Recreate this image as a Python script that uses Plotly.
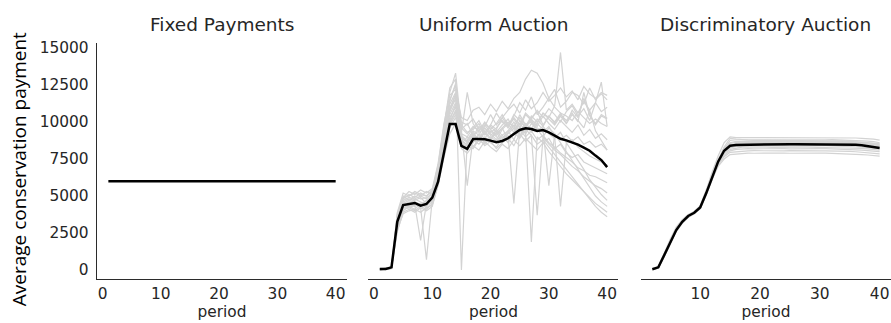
import plotly.graph_objects as go

# ---------------- data ----------------
periods = list(range(1, 41))
disc_periods = list(range(2, 41))

panel_titles = ["Fixed Payments", "Uniform Auction", "Discriminatory Auction"]
y_label = "Average conservation payment"
x_label = "period"
y_tickvals = [0, 2500, 5000, 7500, 10000, 12500, 15000]
y_ticktext = ["0", "2500", "5000", "7500", "10000", "12500", "15000"]
x_tickvals = [0, 10, 20, 30, 40]

fixed_mean = [6000] * 40

uniform_mean = [70, 70, 180, 3270, 4390, 4460, 4530, 4350, 4460, 4890,
                5970, 7930, 9860, 9860, 8380, 8180, 8850, 8850, 8830, 8740,
                8630, 8720, 8900, 9190, 9460, 9570, 9530, 9390, 9460, 9300,
                9100, 8870, 8760, 8630, 8470, 8270, 8060, 7730, 7430, 6950]

uniform_A = [100, 100, 150, 3900, 5200, 5000, 5300, 5100, 5000, 5400,
             7000, 9500, 11500, 12500, 10000, 9800, 10200, 9500, 9700, 10500,
             9800, 10300, 10800, 11200, 10600, 11500, 10900, 11300, 12000, 11400,
             11800, 12300, 11700, 12100, 11500, 12400, 11900, 11600, 12000, 11800]
uniform_B = [50, 80, 200, 3400, 4600, 4800, 4700, 4900, 4500, 4800,
             6500, 9000, 10800, 11800, 9200, 9000, 9600, 10100, 9300, 9800,
             10600, 10000, 9700, 10400, 11300, 10800, 11700, 10500, 11000, 11600,
             12200, 11000, 11400, 12000, 11800, 11200, 12300, 11500, 11900, 11500]
uniform_C = [0, 100, 100, 3000, 4300, 4500, 4600, 4400, 4700, 5000,
             6800, 9600, 12000, 13300, 9500, 9900, 9100, 9400, 10000, 9500,
             9900, 10500, 9800, 10200, 9600, 10500, 10100, 9900, 10600, 10300,
             11100, 14700, 10800, 11200, 10600, 11400, 10800, 11300, 10700, 11000]
uniform_D = [100, 50, 150, 2800, 4000, 4300, 4100, 4500, 4300, 4600,
             6200, 8400, 10300, 11000, 8900, 8700, 9300, 8800, 9600, 9200,
             8800, 9500, 9900, 9300, 10100, 9600, 10300, 10700, 9800, 10400,
             10000, 10600, 9900, 10800, 10300, 11600, 10500, 9800, 10400, 10200]
uniform_E = [50, 100, 200, 3600, 4900, 5300, 5100, 5400, 5200, 5500,
             7200, 9900, 11800, 12200, 10300, 10100, 10800, 11000, 10500, 11200,
             10700, 11400, 10900, 11600, 12000, 12900, 13500, 13300, 12600, 11600,
             11000, 10600, 10400, 10100, 10700, 10300, 9900, 10200, 9900, 9700]
uniform_F = [0, 50, 100, 3200, 4500, 4400, 4800, 4600, 4400, 4700,
             6000, 8000, 9800, 10500, 8500, 9000, 8600, 9200, 8900, 9400,
             9000, 8700, 9300, 9800, 9100, 9600, 10200, 9700, 10400, 9900,
             9500, 10100, 9700, 9300, 9800, 9100, 9500, 8900, 9200, 8800]
uniform_G = [100, 100, 150, 2600, 3900, 4100, 3900, 4200, 4000, 4300,
             5800, 8200, 10000, 10800, 8300, 8100, 8800, 8500, 9000, 8600,
             8300, 8900, 9400, 8800, 9700, 9200, 9900, 9500, 9000, 9600,
             9200, 8800, 9100, 8700, 9000, 8500, 8700, 8300, 8500, 8100]
uniform_H = [0, 100, 100, 3800, 5000, 4700, 5000, 4800, 4900, 5100,
             6600, 9200, 11200, 12000, 9800, 9300, 9500, 9900, 9100, 9700,
             9300, 9800, 10200, 9500, 10500, 9800, 10100, 9400, 9700, 9200,
             8900, 9300, 8600, 8800, 8300, 8000, 7700, 7500, 7300, 7100]
uniform_I = [50, 80, 100, 3300, 4400, 4600, 4500, 4300, 4600, 4900,
             6300, 8800, 10500, 11300, 9000, 8600, 9100, 8700, 9400, 8900,
             9200, 9600, 8800, 9300, 9900, 9400, 1900, 9000, 8600, 8900,
             8200, 8500, 7900, 7600, 7800, 7300, 7100, 6900, 6700, 6500]
uniform_J = [100, 100, 200, 3100, 4200, 4400, 4300, 4500, 4200, 4400,
             5900, 7800, 9600, 10300, 8600, 8300, 8700, 9100, 8600, 8900,
             9300, 8700, 9100, 4500, 9500, 9000, 9400, 8800, 9100, 8600,
             8300, 7900, 7600, 7300, 6900, 6700, 6400, 6300, 6100, 5900]
uniform_K = [0, 50, 100, 2900, 4100, 4200, 4000, 4300, 4100, 4500,
             6100, 8600, 10100, 11200, 8800, 8400, 8200, 8800, 8500, 9000,
             8700, 9100, 8600, 9300, 8900, 9500, 9100, 3700, 9000, 8500,
             8100, 7800, 7400, 7000, 6700, 6300, 6000, 5700, 5500, 5200]
uniform_L = [50, 100, 150, 3700, 4700, 4900, 4800, 5000, 4800, 5200,
             6900, 9300, 11400, 12600, 9600, 9200, 9700, 9400, 9900, 9500,
             9100, 9600, 10000, 9700, 10300, 9800, 10000, 9600, 9300, 9700,
             9000, 4300, 8600, 8000, 7400, 6800, 6100, 5600, 5100, 4700]
uniform_M = [100, 50, 100, 3500, 4500, 4700, 4600, 4400, 4700, 4600,
             6400, 8700, 10700, 11600, 9300, 12000, 9900, 9300, 9600, 9100,
             9400, 8900, 9200, 9600, 9000, 9700, 9300, 9900, 9500, 5700,
             9200, 8600, 8000, 7400, 6800, 6200, 5600, 5000, 4600, 4300]
uniform_N = [0, 100, 150, 3000, 4200, 4300, 4500, 4200, 700, 4800,
             6600, 9000, 10900, 11900, 9100, 8700, 8300, 8900, 8400, 8700,
             8200, 8600, 8900, 8400, 9200, 8700, 9100, 8500, 8800, 8300,
             7800, 7300, 6800, 6300, 5800, 5300, 4800, 4300, 3900, 3600]
uniform_O = [50, 50, 100, 3400, 4800, 5100, 4900, 5200, 5000, 5300,
             7100, 9700, 12300, 12900, 0, 8800, 9400, 9100, 9800, 9300,
             9600, 10100, 9600, 10300, 9800, 10600, 10200, 10800, 10300, 10900,
             10500, 10000, 10700, 11100, 10400, 10900, 10100, 11300, 12700, 9700]
uniform_P = [100, 100, 100, 3100, 4400, 4200, 4400, 2000, 4500, 4700,
             6000, 8100, 9900, 10700, 8700, 8500, 9200, 8700, 9300, 8800,
             9500, 9100, 9400, 10000, 9300, 9900, 9500, 10200, 9700, 10400,
             9900, 10500, 10100, 10600, 10000, 12000, 10400, 9900, 10500, 10250]
uniform_Q = [0, 50, 150, 3600, 4900, 5000, 5200, 5000, 5300, 5100,
             6700, 9100, 11000, 11500, 9400, 5700, 9000, 9700, 9200, 9800,
             9500, 10300, 9700, 10500, 10100, 9700, 10400, 10000, 10600, 10200,
             9800, 10400, 9900, 10500, 10100, 9600, 10800, 9400, 8700, 8100]
uniform_R = [50, 100, 200, 2700, 3800, 4000, 4100, 3900, 4200, 4400,
             5700, 7600, 9200, 9900, 8200, 7900, 8400, 8100, 8700, 8300,
             8000, 8500, 8200, 8800, 8400, 8900, 8500, 8100, 8600, 8000,
             7500, 7000, 6500, 6100, 5700, 5300, 4900, 4500, 4200, 3900]

uniform_runs = [uniform_A, uniform_B, uniform_C, uniform_D, uniform_E, uniform_F,
                uniform_G, uniform_H, uniform_I, uniform_J, uniform_K, uniform_L,
                uniform_M, uniform_N, uniform_O, uniform_P, uniform_Q, uniform_R]

disc_mean = [50, 180, 1010, 1910, 2700, 3260, 3650, 3870, 4230, 5180, 6300, 7320, 8060, 8400,
             8450, 8460, 8470, 8480, 8490, 8490, 8500, 8500, 8500, 8500, 8500, 8500, 8500,
             8500, 8500, 8500, 8500, 8500, 8490, 8480, 8460, 8430, 8380, 8330, 8250]

disc_1 = [80, 250, 1150, 2100, 2900, 3400, 3750, 3950, 4350, 5400, 6600, 7700, 8600, 9000,
          8950, 8950, 8940, 8950, 8960, 8950, 8950, 8950, 8940, 8950, 8950, 8960, 8950,
          8950, 8950, 8950, 8940, 8950, 8950, 8930, 8920, 8900, 8880, 8840, 8780]
disc_2 = [30, 150, 950, 1850, 2650, 3200, 3600, 3800, 4150, 5100, 6200, 7250, 8150, 8750,
          8800, 8790, 8800, 8810, 8800, 8800, 8790, 8800, 8800, 8810, 8800, 8800, 8790,
          8800, 8800, 8800, 8810, 8800, 8790, 8780, 8760, 8740, 8710, 8670, 8600]
disc_3 = [60, 200, 1100, 2000, 2800, 3350, 3700, 3900, 4300, 5250, 6400, 7450, 8250, 8600,
          8700, 8700, 8710, 8700, 8690, 8700, 8700, 8710, 8700, 8700, 8700, 8690, 8700,
          8700, 8710, 8700, 8700, 8690, 8680, 8670, 8650, 8620, 8590, 8550, 8500]
disc_4 = [40, 120, 900, 1800, 2600, 3150, 3550, 3800, 4150, 5050, 6150, 7150, 7900, 8300,
          8550, 8600, 8600, 8610, 8600, 8600, 8590, 8600, 8600, 8600, 8610, 8600, 8600,
          8590, 8600, 8600, 8600, 8590, 8580, 8570, 8550, 8520, 8490, 8450, 8400]
disc_5 = [70, 210, 1050, 1950, 2750, 3300, 3700, 3900, 4250, 5200, 6350, 7400, 8100, 8450,
          8520, 8550, 8550, 8560, 8550, 8550, 8540, 8550, 8550, 8560, 8550, 8550, 8550,
          8540, 8550, 8550, 8550, 8540, 8530, 8510, 8490, 8460, 8430, 8390, 8350]
disc_6 = [20, 150, 980, 1880, 2680, 3230, 3620, 3850, 4200, 5150, 6250, 7300, 7950, 8250,
          8350, 8400, 8400, 8390, 8400, 8410, 8400, 8400, 8400, 8390, 8400, 8400, 8410,
          8400, 8400, 8400, 8390, 8380, 8370, 8350, 8330, 8300, 8270, 8240, 8200]
disc_7 = [60, 190, 1020, 1920, 2720, 3280, 3680, 3880, 4240, 5190, 6280, 7200, 7850, 8150,
          8250, 8300, 8300, 8310, 8300, 8300, 8290, 8300, 8300, 8300, 8310, 8300, 8300,
          8290, 8300, 8300, 8300, 8290, 8280, 8260, 8240, 8210, 8180, 8140, 8100]
disc_8 = [50, 170, 990, 1890, 2690, 3250, 3640, 3860, 4220, 5160, 6220, 7150, 7750, 8050,
          8150, 8200, 8200, 8190, 8200, 8210, 8200, 8200, 8200, 8190, 8200, 8200, 8210,
          8200, 8200, 8200, 8190, 8180, 8170, 8150, 8130, 8100, 8070, 8040, 8000]
disc_9 = [90, 230, 1080, 1980, 2780, 3330, 3720, 3920, 4280, 5230, 6300, 7100, 7650, 7950,
          8000, 8050, 8050, 8060, 8050, 8050, 8040, 8050, 8050, 8060, 8050, 8050, 8050,
          8040, 8050, 8050, 8050, 8040, 8030, 8010, 7990, 7960, 7930, 7890, 7850]
disc_10 = [30, 140, 960, 1860, 2660, 3220, 3610, 3840, 4190, 5130, 6150, 7000, 7500, 7800,
           7850, 7900, 7900, 7890, 7900, 7910, 7900, 7900, 7900, 7890, 7900, 7900, 7910,
           7900, 7900, 7900, 7890, 7880, 7870, 7850, 7830, 7800, 7770, 7740, 7700]
disc_11 = [50, 180, 1000, 1900, 2700, 3250, 3650, 3870, 4220, 5170, 6270, 7350, 8300, 8900,
           8850, 8800, 8780, 8760, 8750, 8750, 8760, 8750, 8750, 8740, 8750, 8750, 8760,
           8750, 8750, 8750, 8740, 8730, 8720, 8700, 8680, 8650, 8620, 8580, 8530]
disc_12 = [40, 160, 1000, 1950, 2750, 3300, 3680, 3900, 4260, 5220, 6350, 7420, 8200, 8550,
           8620, 8650, 8650, 8660, 8650, 8650, 8640, 8650, 8650, 8660, 8650, 8650, 8650,
           8640, 8650, 8650, 8650, 8640, 8630, 8610, 8590, 8560, 8530, 8490, 8450]

disc_runs = [disc_1, disc_2, disc_3, disc_4, disc_5, disc_6,
             disc_7, disc_8, disc_9, disc_10, disc_11, disc_12]

# ---------------- styling ----------------
GREY = "#d3d3d3"
BLACK = "#000000"
AXIS_COL = "#2b2b2b"
TICK_FONT = dict(family="DejaVu Sans", size=15.4, color="#262626")
TITLE_FONT = dict(family="DejaVu Sans", size=18.5, color="#262626")

fig = go.Figure()

# Fixed payments
fig.add_trace(go.Scatter(x=periods, y=fixed_mean, mode="lines",
                         line=dict(color=BLACK, width=2.5), xaxis="x", yaxis="y",
                         showlegend=False, hoverinfo="skip"))

# Uniform auction
for run in uniform_runs:
    fig.add_trace(go.Scatter(x=periods, y=run, mode="lines",
                             line=dict(color=GREY, width=1.2), xaxis="x2", yaxis="y2",
                             showlegend=False, hoverinfo="skip"))
fig.add_trace(go.Scatter(x=periods, y=uniform_mean, mode="lines",
                         line=dict(color=BLACK, width=2.5), xaxis="x2", yaxis="y2",
                         showlegend=False, hoverinfo="skip"))

# Discriminatory auction
for run in disc_runs:
    fig.add_trace(go.Scatter(x=disc_periods, y=run, mode="lines",
                             line=dict(color=GREY, width=1.2), xaxis="x3", yaxis="y3",
                             showlegend=False, hoverinfo="skip"))
fig.add_trace(go.Scatter(x=disc_periods, y=disc_mean, mode="lines",
                         line=dict(color=BLACK, width=2.5), xaxis="x3", yaxis="y3",
                         showlegend=False, hoverinfo="skip"))

y_range = [-608, 15338]
domains = [[0.0, 0.3149], [0.3419, 0.6568], [0.6851, 1.0]]
x_ranges = [[-0.95, 41.95], [-0.95, 41.95], [0.1, 41.9]]


def xaxis_style(dom, rng):
    return dict(domain=dom, range=rng, showline=True, linecolor=AXIS_COL, linewidth=1.3,
                showgrid=False, zeroline=False, ticks="", tickvals=x_tickvals,
                tickfont=TICK_FONT, ticklabelstandoff=0,
                title=dict(text=x_label, font=TICK_FONT, standoff=2),
                automargin=False, fixedrange=True)


fig.update_layout(
    width=891, height=323,
    margin=dict(l=97, r=0, t=43, b=44),
    paper_bgcolor="white", plot_bgcolor="white",
    showlegend=False,
    xaxis=xaxis_style(domains[0], x_ranges[0]),
    xaxis2=xaxis_style(domains[1], x_ranges[1]),
    xaxis3=xaxis_style(domains[2], x_ranges[2]),
    yaxis=dict(range=y_range, showline=True, linecolor=AXIS_COL, linewidth=1.3,
               showgrid=False, zeroline=False, ticks="", tickvals=y_tickvals,
               ticktext=y_ticktext, tickfont=TICK_FONT, ticklabelstandoff=4,
               automargin=False, anchor="x"),
    yaxis2=dict(range=y_range, matches="y", anchor="x2", showline=False, showgrid=False,
                zeroline=False, showticklabels=False, ticks=""),
    yaxis3=dict(range=y_range, matches="y", anchor="x3", showline=False, showgrid=False,
                zeroline=False, showticklabels=False, ticks=""),
)

annotations = []
for title, dom in zip(panel_titles, domains):
    annotations.append(dict(text=title, x=(dom[0] + dom[1]) / 2, y=1.08, xref="paper",
                            yref="paper", xanchor="center", yanchor="middle",
                            showarrow=False, font=TITLE_FONT))
annotations.append(dict(text=y_label, x=-0.098, y=0.466, xref="paper", yref="paper",
                        xanchor="center", yanchor="middle", textangle=-90, showarrow=False,
                        font=dict(family="Open Sans", size=19, color="#000000")))
fig.update_layout(annotations=annotations)

# Remove the browser's default page margin so the 891x323 figure fills the window.
fig.write_html("out.html",
               config={"displayModeBar": False, "staticPlot": True},
               post_script="document.body.style.margin='0';"
                           "document.body.style.overflow='hidden';")
